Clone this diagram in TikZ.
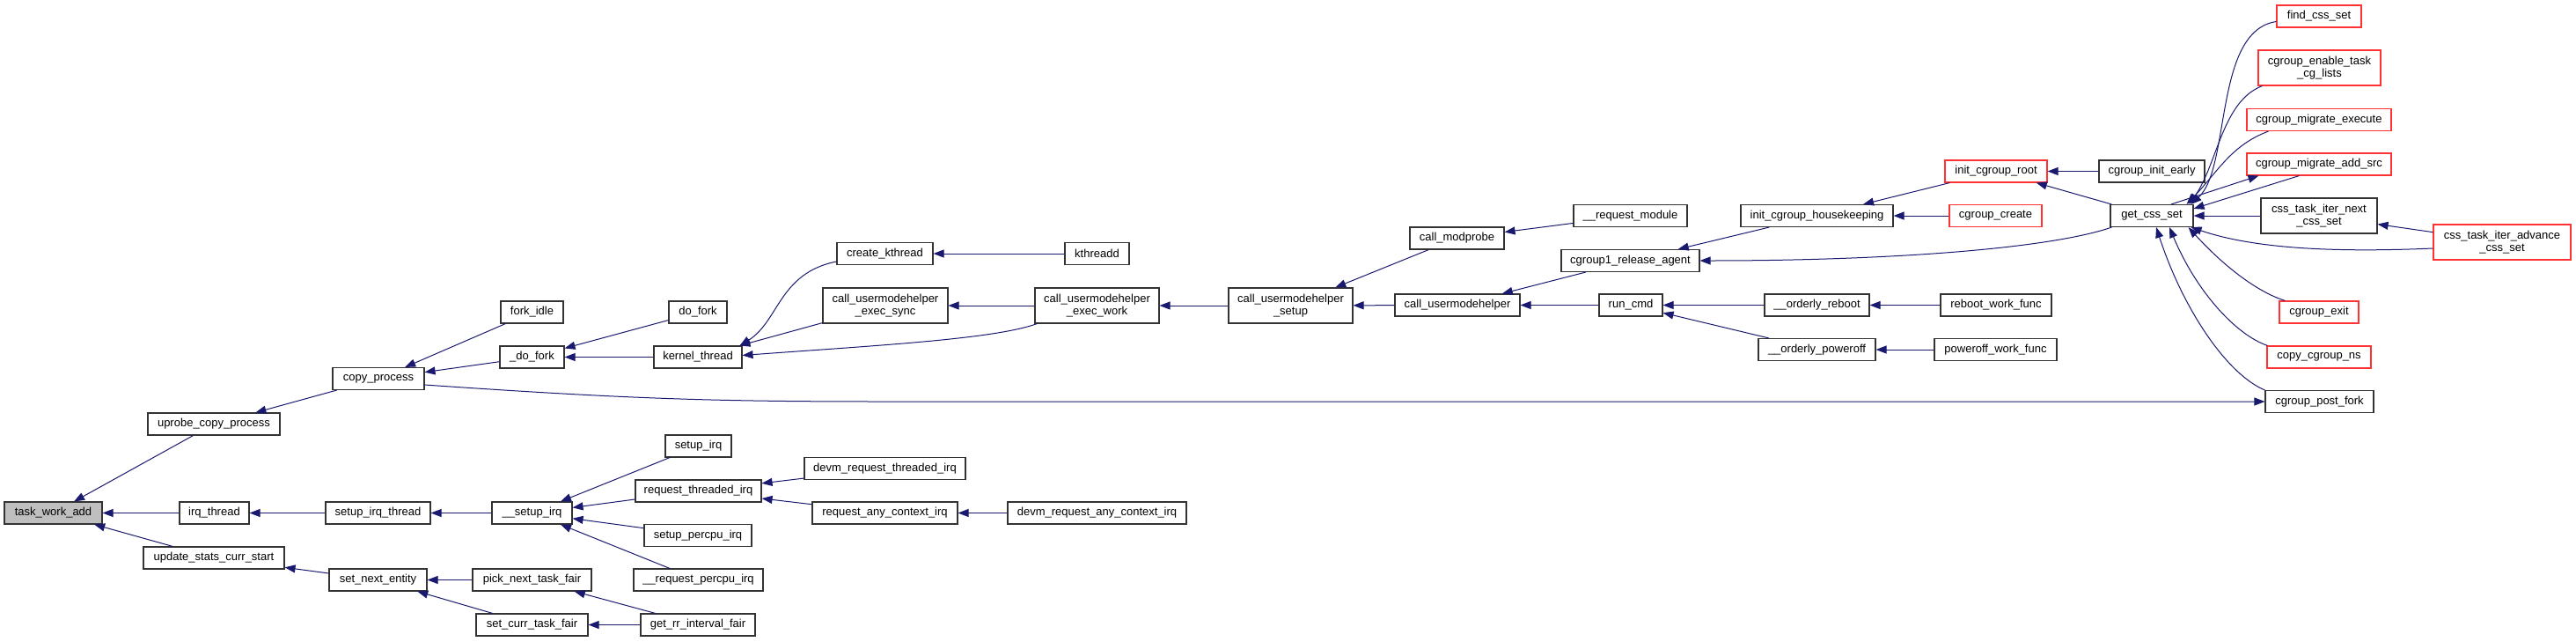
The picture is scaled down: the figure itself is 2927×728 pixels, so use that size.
\documentclass[tikz,border=0pt]{standalone}
\usepackage{fontspec}
\setmainfont{Liberation Sans}
\usetikzlibrary{arrows.meta}
\definecolor{edgeblue}{HTML}{191970}
\definecolor{boxred}{HTML}{FF3333}

\begin{document}
\begin{tikzpicture}[x=1pt,y=-1pt,
  fn/.style={draw=black!80, line width=1.1pt, inner sep=0pt, minimum height=25pt,
    font=\fontsize{13}{14.3}\selectfont, align=center},
  fnred/.style={fn, draw=boxred},
  calledby/.style={draw=edgeblue, line width=1pt, {Triangle[length=12pt,width=9pt]}-},
  calls/.style={draw=edgeblue, line width=1pt, -{Triangle[length=12pt,width=9pt]}}]
\useasboundingbox (0,0) rectangle (2927,728);

% functions
\node[fn, fill=black!25, minimum width=111pt] (twa) at (60.5,582.5) {task\_work\_add};
\node[fn, minimum width=150pt] (ucp) at (243,481.5) {uprobe\_copy\_process};
\node[fn, minimum width=79pt] (irqt) at (243.5,582.5) {irq\_thread};
\node[fn, minimum width=160pt] (uscs) at (243,633.5) {update\_stats\_curr\_start};
\node[fn, minimum width=104pt] (cpp) at (430,430) {copy\_process};
\node[fn, minimum width=119pt] (sirqt) at (429.5,582.5) {setup\_irq\_thread};
\node[fn, minimum width=111pt] (sne) at (429.5,658.5) {set\_next\_entity};
\node[fn, minimum width=71pt] (fki) at (604.5,354.5) {fork\_idle};
\node[fn, minimum width=73pt] (udof) at (604.5,405.5) {\_do\_fork};
\node[fn, minimum width=91pt] (ssirq) at (604.5,582.5) {\_\_setup\_irq};
\node[fn, minimum width=135pt] (pntf) at (604.5,658.5) {pick\_next\_task\_fair};
\node[fn, minimum width=127pt] (sctf) at (604.5,709.5) {set\_curr\_task\_fair};
\node[fn, minimum width=66pt] (dof) at (793,354.5) {do\_fork};
\node[fn, minimum width=100pt] (kth) at (793,405.5) {kernel\_thread};
\node[fn, minimum width=75pt] (sirq) at (793.5,506.5) {setup\_irq};
\node[fn, minimum width=143pt] (rtirq) at (793.5,557.5) {request\_threaded\_irq};
\node[fn, minimum width=122pt] (spirq) at (793,608) {setup\_percpu\_irq};
\node[fn, minimum width=147pt] (rpirq) at (793.5,658.5) {\_\_request\_percpu\_irq};
\node[fn, minimum width=130pt] (grif) at (793,709.5) {get\_rr\_interval\_fair};
\node[fn, minimum width=109pt] (ckt) at (1005.5,288) {create\_kthread};
\node[fn, minimum width=142pt, minimum height=40pt] (cues) at (1006,347) {call\_usermodehelper\\\_exec\_sync};
\node[fn, minimum width=183pt] (dmrtirq) at (1005.5,532) {devm\_request\_threaded\_irq};
\node[fn, minimum width=165pt] (raci) at (1005.5,582.5) {request\_any\_context\_irq};
\node[fn, minimum width=73pt] (kthd) at (1246.5,288) {kthreadd};
\node[fn, minimum width=141pt, minimum height=40pt] (cuew) at (1246.5,347) {call\_usermodehelper\\\_exec\_work};
\node[fn, minimum width=203pt] (dmraci) at (1246.5,582.5) {devm\_request\_any\_context\_irq};
\node[fn, minimum width=141pt, minimum height=40pt] (cusetup) at (1466.5,347) {call\_usermodehelper\\\_setup};
\node[fn, minimum width=107pt] (cmp) at (1655.5,270.5) {call\_modprobe};
\node[fn, minimum width=142pt] (cuh) at (1656,346.5) {call\_usermodehelper};
\node[fn, minimum width=129pt] (rqm) at (1852.5,245) {\_\_request\_module};
\node[fn, minimum width=157pt] (cra) at (1852.5,296) {cgroup1\_release\_agent};
\node[fn, minimum width=72pt] (rcmd) at (1853,346.5) {run\_cmd};
\node[fn, minimum width=173pt] (ich) at (2064.5,245) {init\_cgroup\_housekeeping};
\node[fn, minimum width=119pt] (orb) at (2064.5,346.5) {\_\_orderly\_reboot};
\node[fn, minimum width=133pt] (opo) at (2064.5,397) {\_\_orderly\_poweroff};
\node[fnred, minimum width=116pt] (icr) at (2268,194.5) {init\_cgroup\_root};
\node[fnred, minimum width=105pt] (ccr) at (2267.5,245) {cgroup\_create};
\node[fn, minimum width=126pt] (rwf) at (2268,346.5) {reboot\_work\_func};
\node[fn, minimum width=139pt] (pwf) at (2267.5,397) {poweroff\_work\_func};
\node[fn, minimum width=120pt] (cie) at (2445,194.5) {cgroup\_init\_early};
\node[fn, minimum width=94pt] (gcs) at (2445,245) {get\_css\_set};
\node[fnred, minimum width=96pt] (fcs) at (2635,18.5) {find\_css\_set};
\node[fnred, minimum width=139pt, minimum height=40pt] (cetcl) at (2635.5,77) {cgroup\_enable\_task\\\_cg\_lists};
\node[fnred, minimum width=164pt] (cme) at (2635,136) {cgroup\_migrate\_execute};
\node[fnred, minimum width=164pt] (cmas) at (2635,186.5) {cgroup\_migrate\_add\_src};
\node[fn, minimum width=132pt, minimum height=40pt] (ctin) at (2635,245) {css\_task\_iter\_next\\\_css\_set};
\node[fnred, minimum width=90pt] (cgex) at (2635,354.5) {cgroup\_exit};
\node[fnred, minimum width=118pt] (ccns) at (2635,405.5) {copy\_cgroup\_ns};
\node[fn, minimum width=123pt] (cpf) at (2635.5,456) {cgroup\_post\_fork};
\node[fnred, minimum width=156pt, minimum height=40pt] (ctia) at (2843,275) {css\_task\_iter\_advance\\\_css\_set};

% call edges
\draw[calledby] (twa) -- (ucp);
\draw[calledby] (twa) -- (irqt);
\draw[calledby] (twa) -- (uscs);
\draw[calledby] (ucp) -- (cpp);
\draw[calledby] (irqt) -- (sirqt);
\draw[calledby] (sirqt) -- (ssirq);
\draw[calledby] (uscs) -- (sne);
\draw[calledby] (sne) -- (pntf);
\draw[calledby] (sne) -- (sctf);
\draw[calledby] (pntf) -- (grif);
\draw[calledby] (sctf) -- (grif);
\draw[calledby] (cpp) -- (fki);
\draw[calledby] (cpp) -- (udof);
\draw[calls] ([yshift=-7pt]cpp.east) .. controls (700,452) and (800,456) .. (1000,456) -- (cpf.west);
\draw[calledby] (udof) -- (dof);
\draw[calledby] (udof) -- (kth);
\draw[calledby] ([xshift=-3pt]kth.north east) .. controls (885,365) and (885,310) .. ([yshift=-9pt]ckt.west);
\draw[calledby] (kth) -- (cues);
\draw[calledby] ([yshift=2pt]kth.east) .. controls (1000,392) and (1130,385) .. ([xshift=3pt]cuew.south west);
\draw[calledby] (ssirq) -- (sirq);
\draw[calledby] (ssirq) -- (rtirq);
\draw[calledby] (ssirq) -- (spirq);
\draw[calledby] (ssirq) -- (rpirq);
\draw[calledby] (rtirq) -- (dmrtirq);
\draw[calledby] (rtirq) -- (raci);
\draw[calledby] (raci) -- (dmraci);
\draw[calledby] (ckt) -- (kthd);
\draw[calledby] (cues) -- (cuew);
\draw[calledby] (cuew) -- (cusetup);
\draw[calledby] (cusetup) -- (cmp);
\draw[calledby] (cusetup) -- (cuh);
\draw[calledby] (cmp) -- (rqm);
\draw[calledby] (cuh) -- (cra);
\draw[calledby] (cuh) -- (rcmd);
\draw[calledby] (cra) -- (ich);
\draw[calledby] (cra.east) .. controls (2150,296) and (2330,282) .. ([xshift=2pt]gcs.south west);
\draw[calledby] (rcmd) -- (orb);
\draw[calledby] (rcmd) -- (opo);
\draw[calledby] (orb) -- (rwf);
\draw[calledby] (opo) -- (pwf);
\draw[calledby] (ich) -- (icr);
\draw[calledby] (ich) -- (ccr);
\draw[calledby] (icr) -- (cie);
\draw[calledby] (icr) -- (gcs);
% get_css_set callers
\draw[calledby] ([xshift=-3pt]gcs.north east) .. controls (2535,190) and (2515,35) .. ([yshift=-6pt]fcs.west);
\draw[calledby] ([xshift=-5pt]gcs.north east) .. controls (2520,185) and (2525,115) .. ([xshift=5pt]cetcl.south west);
\draw[calledby] ([xshift=-8pt]gcs.north east) .. controls (2520,195) and (2535,165) .. ([xshift=25pt]cme.south west);
\draw[calls] ([xshift=22pt]gcs.north) -- ([xshift=14pt]cmas.south west);
\draw[calledby] ([yshift=-5pt]gcs.north east) -- ([xshift=60pt]cmas.south west);
\draw[calledby] (gcs) -- (ctin);
\draw[calledby] (ctin) -- (ctia);
\draw[calledby] ([xshift=-3pt]gcs.south east) .. controls (2560,282) and (2650,287) .. ([yshift=-7pt]ctia.west);
\draw[calledby] ([xshift=-6pt]gcs.south east) .. controls (2520,295) and (2560,330) .. ([xshift=7pt]cgex.north west);
\draw[calledby] ([xshift=20pt]gcs.south) .. controls (2495,330) and (2540,380) .. ([xshift=1pt]ccns.north west);
\draw[calledby] ([xshift=5pt]gcs.south) .. controls (2480,350) and (2530,425) .. (cpf.north west);
\end{tikzpicture}
\end{document}
